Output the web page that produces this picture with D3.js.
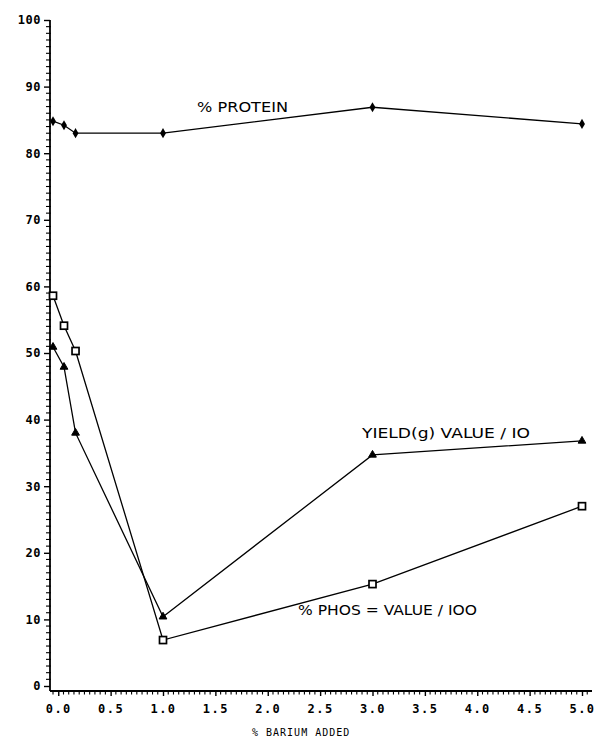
<!DOCTYPE html>
<html>
<head>
<meta charset="utf-8">
<script src="https://cdn.jsdelivr.net/npm/d3@7"></script>
<style>
  html, body { margin: 0; padding: 0; background: #fff; }
  svg { display: block; }
  .tick text { font-family: "DejaVu Sans Mono", monospace; font-weight: bold; }
</style>
</head>
<body>
<script>
// ---- data ----
const barium = [-0.05, 0.055, 0.165, 1.0, 3.0, 5.0];        // % barium added
const protein = [84.8, 84.2, 83.0, 83.0, 86.9, 84.4];         // % protein
const yieldVal = [50.9, 47.9, 38.0, 10.4, 34.7, 36.8];        // yield(g) value / 10
const phos = [58.6, 54.1, 50.3, 6.9, 15.3, 27.0];             // % phos = value / 100
const xTicks = [0.0, 0.5, 1.0, 1.5, 2.0, 2.5, 3.0, 3.5, 4.0, 4.5, 5.0];
const yTicks = [0, 10, 20, 30, 40, 50, 60, 70, 80, 90, 100];
const seriesLabels = ["% PROTEIN", "YIELD(g) VALUE / IO", "% PHOS = VALUE / IOO"];
const xTitle = "% BARIUM ADDED";

const W = 604, H = 740;
const svg = d3.select("body").append("svg").attr("width", W).attr("height", H);

const x = d3.scaleLinear().domain([0, 5]).range([58.25, 582]);
const y = d3.scaleLinear().domain([0, 100]).range([686, 20]);

const axisX = 50;   // position of y axis line
const axisY = 691;  // position of x axis line

// Y axis
const yAxis = d3.axisLeft(y).tickValues(yTicks).tickFormat(d3.format("d")).tickSize(6).tickPadding(3);
const gy = svg.append("g").attr("transform", `translate(${axisX},0)`).call(yAxis);
gy.select(".domain").remove();
gy.selectAll(".tick line").attr("stroke", "#000").attr("stroke-width", 1.4);
gy.selectAll(".tick text").attr("font-size", 12).attr("letter-spacing", 0.5).attr("fill", "#000");
svg.append("line").attr("x1", axisX).attr("x2", axisX).attr("y1", y(100)).attr("y2", axisY)
  .attr("stroke", "#000").attr("stroke-width", 1.8);
// minor y ticks
svg.append("g").selectAll("line").data(d3.range(0, 101, 1).filter(v => v % 10 !== 0)).join("line")
  .attr("x1", axisX - 4).attr("x2", axisX + 1)
  .attr("y1", d => y(d)).attr("y2", d => y(d))
  .attr("stroke", "#000").attr("stroke-width", 1.1);

// X axis
const xAxis = d3.axisBottom(x).tickValues(xTicks).tickFormat(d3.format(".1f")).tickSize(5).tickPadding(8);
const gx = svg.append("g").attr("transform", `translate(0,${axisY})`).call(xAxis);
gx.select(".domain").remove();
gx.selectAll(".tick line").attr("stroke", "#000").attr("stroke-width", 1.4);
gx.selectAll(".tick text").attr("font-size", 12).attr("letter-spacing", 1.5).attr("fill", "#000");
svg.append("line").attr("x1", axisX).attr("x2", x(5) + 10).attr("y1", axisY).attr("y2", axisY)
  .attr("stroke", "#000").attr("stroke-width", 1.8);
// minor x ticks
svg.append("g").selectAll("line").data(d3.range(-1, 102).map(i => i * 0.05).filter(v => x(v) > axisX + 2 && Math.abs(v * 2 - Math.round(v * 2)) > 1e-6)).join("line")
  .attr("x1", d => x(d)).attr("x2", d => x(d))
  .attr("y1", axisY - 1).attr("y2", axisY + 3.5)
  .attr("stroke", "#000").attr("stroke-width", 1.1);

svg.append("text").attr("x", 252).attr("y", 736).attr("font-family", "DejaVu Sans Mono, monospace")
  .attr("font-size", 10).attr("letter-spacing", 1).attr("fill", "#000").text(xTitle);

// Lines
const line = d3.line().x(d => x(d[0])).y(d => y(d[1]));
const mk = vals => barium.map((b, i) => [b, vals[i]]);
[protein, yieldVal, phos].forEach(vals => {
  svg.append("path").datum(mk(vals)).attr("d", line)
    .attr("fill", "none").attr("stroke", "#000").attr("stroke-width", 1.3);
});

// Markers
svg.append("g").selectAll("path").data(mk(protein)).join("path")
  .attr("d", d3.symbol().type(d3.symbolDiamond).size(30))
  .attr("transform", d => `translate(${x(d[0])},${y(d[1])})`).attr("fill", "#000");
svg.append("g").selectAll("path").data(mk(yieldVal)).join("path")
  .attr("d", d3.symbol().type(d3.symbolTriangle).size(26))
  .attr("transform", d => `translate(${x(d[0])},${y(d[1])})`)
  .attr("fill", "#000").attr("stroke", "#000").attr("stroke-width", 1);
svg.append("g").selectAll("rect").data(mk(phos)).join("rect")
  .attr("x", d => x(d[0]) - 3.5).attr("y", d => y(d[1]) - 3.5).attr("width", 7).attr("height", 7)
  .attr("fill", "#fff").attr("stroke", "#000").attr("stroke-width", 1.7);

// Series labels
const lab = [
  {t: seriesLabels[0], x: 197, y: 112, w: 91},
  {t: seriesLabels[1], x: 362, y: 438, w: 168},
  {t: seriesLabels[2], x: 298, y: 615, w: 179}
];
svg.append("g").selectAll("text").data(lab).join("text")
  .attr("x", d => d.x).attr("y", d => d.y)
  .attr("font-family", "DejaVu Sans, sans-serif").attr("font-size", 13.5)
  .attr("textLength", d => d.w).attr("lengthAdjust", "spacingAndGlyphs")
  .attr("fill", "#000").text(d => d.t);
</script>
</body>
</html>
